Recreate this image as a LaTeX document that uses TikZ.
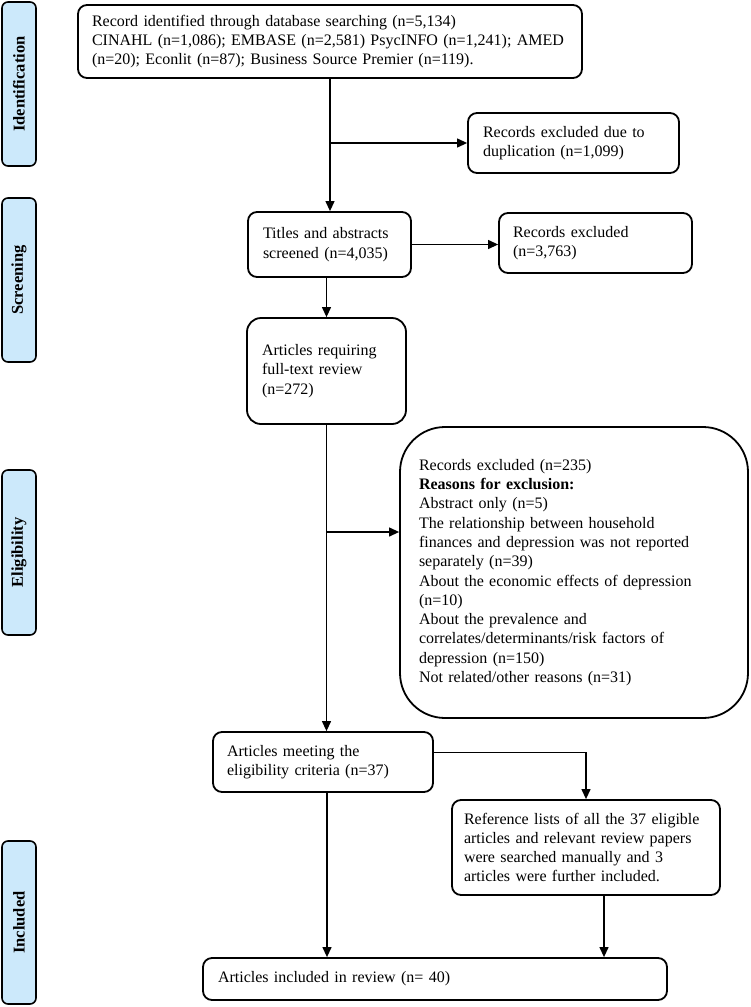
\documentclass[tikz,border=0pt]{standalone}
\usepackage{fontspec}
\setmainfont{Liberation Serif}
\usetikzlibrary{arrows.meta,calc}
\definecolor{sideblue}{RGB}{204,233,251}
\begin{document}
\begin{tikzpicture}[x=1pt,y=-1pt,
  box/.style={draw, line width=1.8pt, rounded corners=9pt, align=left,
    inner ysep=0pt, font=\fontsize{16}{19.3}\selectfont},
  side/.style={draw, line width=1.6pt, rounded corners=6pt, fill=sideblue,
    rotate=90, minimum height=34pt, inner sep=0pt,
    font=\fontsize{16.5}{19}\selectfont\bfseries},
  arr/.style={line width=1.2pt, -{Triangle[length=10pt,width=9pt]}},
  ln/.style={line width=1.2pt}]
\useasboundingbox (0,0) rectangle (750,1007);

% side labels
\node[side, minimum width=164pt] (sid) at (19,84) {Identification};
\node[side, minimum width=164pt] (ssc) at (19,280) {Screening};
\node[side, minimum width=165pt] (sel) at (19,552.5) {Eligibility};
\node[side, minimum width=163pt] (sin) at (19,922.5) {Included};

% boxes
\node[box, minimum width=504pt, minimum height=73pt, text width=476pt, inner xsep=14pt] (top) at (330,41.5)
 {Record identified through database searching (n=5,134)\\
  CINAHL (n=1,086); EMBASE (n=2,581) PsycINFO (n=1,241); AMED\\
  (n=20); Econlit (n=87); Business Source Premier (n=119).};

\node[box, minimum width=211pt, minimum height=60pt, text width=181pt, inner xsep=15pt] (dup) at (573.5,143)
 {Records excluded due to\\ duplication (n=1,099)};

\node[box, minimum width=163pt, minimum height=65pt, text width=133pt, inner xsep=15pt] (tit) at (329.5,244.5)
 {Titles and abstracts\\ screened (n=4,035)};

\node[box, minimum width=193pt, minimum height=60pt, text width=165pt, inner xsep=14pt] (rex) at (595.5,243)
 {Records excluded\\ (n=3,763)};

\node[box, rounded corners=14pt, minimum width=159pt, minimum height=106pt, text width=129pt, inner xsep=15pt] (areq) at (326.5,371)
 {Articles requiring\\ full-text review\\ (n=272)};

\node[box, rounded corners=45pt, minimum width=348pt, minimum height=291pt, text width=310pt, inner xsep=19pt] (elig) at (574,572.5)
 {Records excluded (n=235)\\
  \textbf{Reasons for exclusion:}\\
  Abstract only (n=5)\\
  The relationship between household\\
  finances and depression was not reported\\
  separately (n=39)\\
  About the economic effects of depression\\
  (n=10)\\
  About the prevalence and\\
  correlates/determinants/risk factors of\\
  depression (n=150)\\
  Not related/other reasons (n=31)};

\node[box, minimum width=220pt, minimum height=60pt, text width=192pt, inner xsep=14pt] (ameet) at (323,762)
 {Articles meeting the\\ eligibility criteria (n=37)};

\node[box, minimum width=268pt, minimum height=95pt, text width=244pt, inner xsep=12pt] (ref) at (586,847.5)
 {Reference lists of all the 37 eligible\\
  articles and relevant review papers\\
  were searched manually and 3\\
  articles were further included.};

\node[box, minimum width=464pt, minimum height=42pt, text width=434pt, inner xsep=15pt] (fin) at (435,979)
 {Articles included in review (n= 40)};

% connectors
\draw[arr] (top.south) -- (top.south |- tit.north);
\coordinate (b1) at (330,143);
\draw[arr] (b1) -- (dup.west);
\draw[arr] (tit.east) -- (tit.east -| rex.west);
\draw[arr] (areq.north |- tit.south) -- (areq.north);
\draw[arr] (areq.south) -- (areq.south |- ameet.north);
\coordinate (b2) at (326.5,532);
\draw[arr] (b2) -- (b2 -| elig.west);
\coordinate (b3) at ($(ameet.north east)!0.35!(ameet.south east)$);
\draw[arr] (b3) -| (ref.north);
\draw[arr] ([xshift=4pt]ameet.south) -- ([xshift=4pt]ameet.south |- fin.north);
\draw[arr] ([xshift=18pt]ref.south) -- ([xshift=18pt]ref.south |- fin.north);
\end{tikzpicture}
\end{document}
